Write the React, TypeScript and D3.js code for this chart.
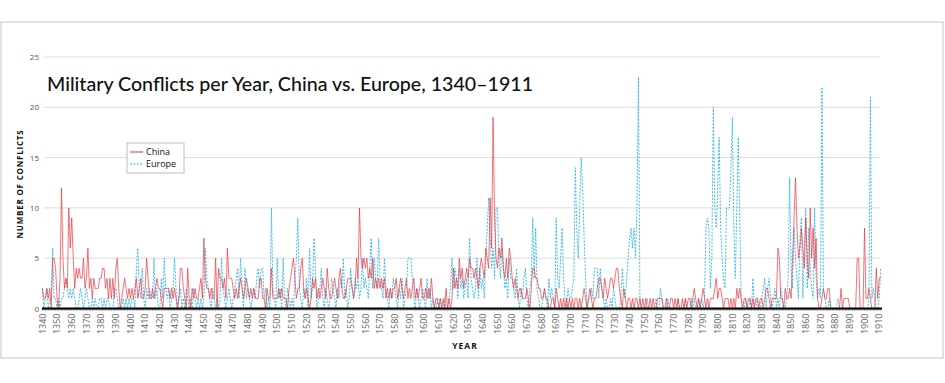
import React from "react";
import * as d3 from "d3";

const START_YEAR = 1340;
const END_YEAR = 1911;

// China conflicts per year, by decade starting 1340
const china: number[] = [
  2,1,1,2,1,2,0,5,5,4,
  1,0,3,12,5,2,3,2,10,6,
  9,5,2,4,3,4,3,3,5,2,
  3,6,2,3,1,3,2,2,2,3,
  3,4,4,2,3,1,3,1,3,1,
  4,5,2,0,1,2,3,2,1,2,
  1,2,1,2,3,1,2,3,1,1,
  2,5,3,1,1,2,1,2,3,2,
  2,1,0,2,2,2,2,1,2,1,
  2,1,0,1,4,4,2,1,0,4,
  1,0,2,1,2,1,1,2,3,1,
  7,3,2,2,1,2,1,1,5,0,
  4,3,3,2,3,1,6,3,3,3,
  2,1,2,1,2,3,2,1,2,3,
  2,1,2,1,2,1,1,1,3,3,
  1,1,0,2,1,1,4,1,1,1,
  1,2,1,2,1,1,1,0,2,3,
  4,5,3,1,2,2,4,5,2,1,
  2,1,0,1,3,2,3,1,2,1,
  2,3,2,1,4,2,1,1,2,3,
  2,1,3,4,2,1,1,2,3,3,
  3,2,1,2,5,3,10,5,4,5,
  4,5,3,4,3,5,2,3,2,3,
  2,3,2,3,1,2,1,2,1,2,
  2,3,1,2,3,2,1,2,3,1,
  2,1,2,3,1,2,1,2,3,1,
  1,2,1,2,1,3,1,0,1,1,
  0,1,0,1,0,2,0,1,0,1,
  4,2,3,2,5,3,4,2,3,4,
  3,5,4,4,3,4,3,2,4,5,
  4,3,6,5,4,11,6,19,9,5,
  4,6,5,7,4,3,5,3,6,5,
  3,2,3,2,1,2,2,1,1,1,
  2,1,0,2,4,4,3,3,2,2,
  1,1,2,1,1,0,0,1,1,0,
  2,1,0,1,0,1,0,1,0,1,
  0,1,0,1,1,0,1,0,1,2,
  1,0,1,2,1,0,1,1,2,3,
  3,2,1,3,2,1,2,3,3,2,
  3,4,4,2,1,0,2,1,0,1,
  1,0,1,0,1,1,0,1,0,1,
  0,1,0,0,1,0,1,0,0,1,
  1,1,1,0,0,1,0,0,1,1,
  0,1,0,1,0,0,1,0,1,0,
  1,1,0,1,2,1,0,1,0,1,
  2,1,0,1,0,1,1,1,2,3,
  1,2,2,1,0,1,1,1,0,1,
  0,1,0,2,1,2,1,0,1,1,
  0,1,1,0,1,0,1,1,0,1,
  1,0,1,2,2,1,0,1,1,1,
  1,6,5,1,1,0,2,1,1,2,
  1,5,9,13,8,5,6,8,6,4,
  9,5,3,10,5,8,4,7,1,0,
  0,1,2,1,1,2,2,0,0,0,
  0,0,0,0,2,0,1,1,1,1,
  0,0,0,0,0,5,5,0,0,0,
  8,1,1,2,1,0,0,0,4,1,
  3,3,
];

// Europe conflicts per year, by decade starting 1340
const europe: number[] = [
  2,0,1,2,0,1,1,6,1,1,
  0,1,0,1,1,2,3,2,1,2,
  1,2,1,0,0,1,2,1,0,1,
  2,1,0,0,1,0,1,0,0,1,
  1,0,1,0,1,1,0,0,0,2,
  2,1,0,0,0,1,0,1,0,1,
  0,1,1,0,4,6,2,1,4,1,
  0,2,1,2,1,1,5,1,2,0,
  0,3,1,5,2,1,2,0,1,2,
  5,2,0,1,2,0,1,0,2,1,
  0,1,0,2,1,0,1,0,1,0,
  1,6,3,2,1,0,2,1,0,1,
  0,1,5,2,1,0,1,2,1,0,
  1,2,3,4,1,5,2,0,4,1,
  2,1,0,1,2,1,3,4,2,4,
  4,1,2,0,1,0,10,2,1,0,
  5,1,2,0,5,1,0,2,1,0,
  1,0,3,5,9,2,1,0,2,1,
  3,0,6,1,2,7,4,0,1,2,
  4,1,0,2,1,0,1,3,2,1,
  0,2,1,3,2,5,1,2,0,1,
  4,2,1,3,2,3,1,2,5,2,
  3,2,1,4,7,2,5,3,2,7,
  3,2,1,5,2,1,0,2,1,3,
  2,1,0,2,1,3,0,1,2,5,
  5,5,3,1,0,2,1,0,1,2,
  1,0,3,1,2,0,1,0,0,1,
  0,1,0,0,1,0,0,1,2,5,
  2,4,3,1,4,2,3,1,2,3,
  1,7,3,2,1,2,5,1,4,2,
  3,1,5,8,11,7,4,6,3,10,
  10,5,3,6,4,2,3,1,5,3,
  3,2,1,4,1,0,2,1,3,4,
  1,0,2,3,9,3,8,2,1,0,
  0,1,2,1,0,3,1,2,1,0,
  9,3,2,5,8,3,1,0,2,1,
  1,2,3,14,8,5,10,15,12,7,
  3,0,1,1,2,1,4,4,4,1,
  4,2,1,0,1,0,0,1,0,2,
  1,0,0,0,1,4,2,1,3,5,
  7,8,6,8,5,10,23,1,0,0,
  0,0,1,0,0,0,0,0,1,0,
  0,2,1,0,0,0,1,0,0,0,
  0,0,0,1,0,0,0,0,1,0,
  0,0,1,0,1,0,0,1,0,1,
  0,1,8,9,8,2,5,20,10,8,
  12,17,8,5,3,2,10,10,10,14,
  19,8,3,10,17,9,1,0,0,1,
  0,0,1,0,3,0,0,1,0,0,
  1,2,3,0,2,3,1,0,1,2,
  0,1,0,2,1,0,0,1,3,13,
  4,2,8,5,3,1,7,9,1,6,
  10,2,8,4,2,1,10,3,1,2,
  1,22,2,1,0,0,1,0,0,0,
  0,0,1,0,0,0,0,0,0,0,
  0,0,0,0,0,0,0,0,0,0,
  0,0,0,1,21,1,2,1,0,0,
  1,4,
];

const yTicks = [0, 5, 10, 15, 20, 25];
const xTickYears = d3.range(1340, 1911, 10);

const TITLE = "Military Conflicts per Year, China vs. Europe, 1340–1911";

export default function App() {
  const W = 945;
  const H = 383;
  const x = d3.scaleLinear().domain([START_YEAR, 1910]).range([42.4, 879.2]);
  const y = d3.scaleLinear().domain([0, 25]).range([308.5, 57]);

  const years = d3.range(START_YEAR, END_YEAR + 1);
  const line = d3
    .line<number>()
    .x((_, i) => x(years[i]))
    .y((d) => y(d));

  const font = "'Open Sans', 'DejaVu Sans', sans-serif";

  return (
    <svg
      width={W}
      height={H}
      style={{ position: "absolute", left: 0, top: 0, display: "block", background: "#fff" }}
    >
      <rect x={1} y={22} width={942} height={336} fill="#fff" stroke="#cfcfcf" strokeWidth={1.2} />

      {yTicks.map((t) => (
        <g key={t}>
          {t > 0 && (
            <line x1={44} x2={880} y1={y(t)} y2={y(t)} stroke="#dcdcdc" strokeWidth={1} />
          )}
          <text
            x={39}
            y={y(t) + 3}
            textAnchor="end"
            fontSize={8}
            fill="#555"
            fontFamily={font}
          >
            {t}
          </text>
        </g>
      ))}

      <text
        x={47}
        y={91}
        fontSize={20}
        fontFamily="Lato, 'Open Sans', sans-serif"
        fontWeight={500}
        fill="#111"
        textLength={486}
        lengthAdjust="spacingAndGlyphs"
      >
        {TITLE}
      </text>

      <path d={line(europe) || ""} fill="none" stroke="#2bb5e6" strokeWidth={0.9} strokeDasharray="2,1.4" />
      <path d={line(china) || ""} fill="none" stroke="#ee2f37" strokeWidth={0.8} strokeOpacity={0.85} />

      <line x1={42} x2={882} y1={y(0)} y2={y(0)} stroke="#000" strokeWidth={2} />
      {years.map((yr) => (
        <line key={yr} x1={x(yr)} x2={x(yr)} y1={y(0)} y2={y(0) + 2} stroke="#000" strokeWidth={0.5} />
      ))}

      {xTickYears.map((yr) => (
        <text
          key={yr}
          transform={`translate(${x(yr) + 3.2},${y(0) + 5}) rotate(-90)`}
          textAnchor="end"
          fontSize={9}
          fill="#666"
          fontFamily={font}
        >
          {yr}
        </text>
      ))}

      <text
        x={465}
        y={349}
        textAnchor="middle"
        fontSize={8.5}
        fontWeight="bold"
        letterSpacing={1}
        fill="#111"
        fontFamily={font}
      >
        YEAR
      </text>

      <text
        transform="translate(23,184) rotate(-90)"
        textAnchor="middle"
        fontSize={8}
        fontWeight="bold"
        letterSpacing={0.8}
        fill="#111"
        fontFamily={font}
      >
        NUMBER OF CONFLICTS
      </text>

      <g>
        <rect x={127} y={143} width={57} height={30} fill="#fff" stroke="#aaa" strokeWidth={0.8} />
        <line x1={130} x2={143} y1={152} y2={152} stroke="#ee2f37" strokeWidth={1} />
        <text x={146} y={154.5} fontSize={9} fill="#111" fontFamily={font}>
          China
        </text>
        <line x1={130} x2={143} y1={164} y2={164} stroke="#2bb5e6" strokeWidth={1} strokeDasharray="2,1.4" />
        <text x={146} y={167} fontSize={9} fill="#111" fontFamily={font}>
          Europe
        </text>
      </g>
    </svg>
  );
}
